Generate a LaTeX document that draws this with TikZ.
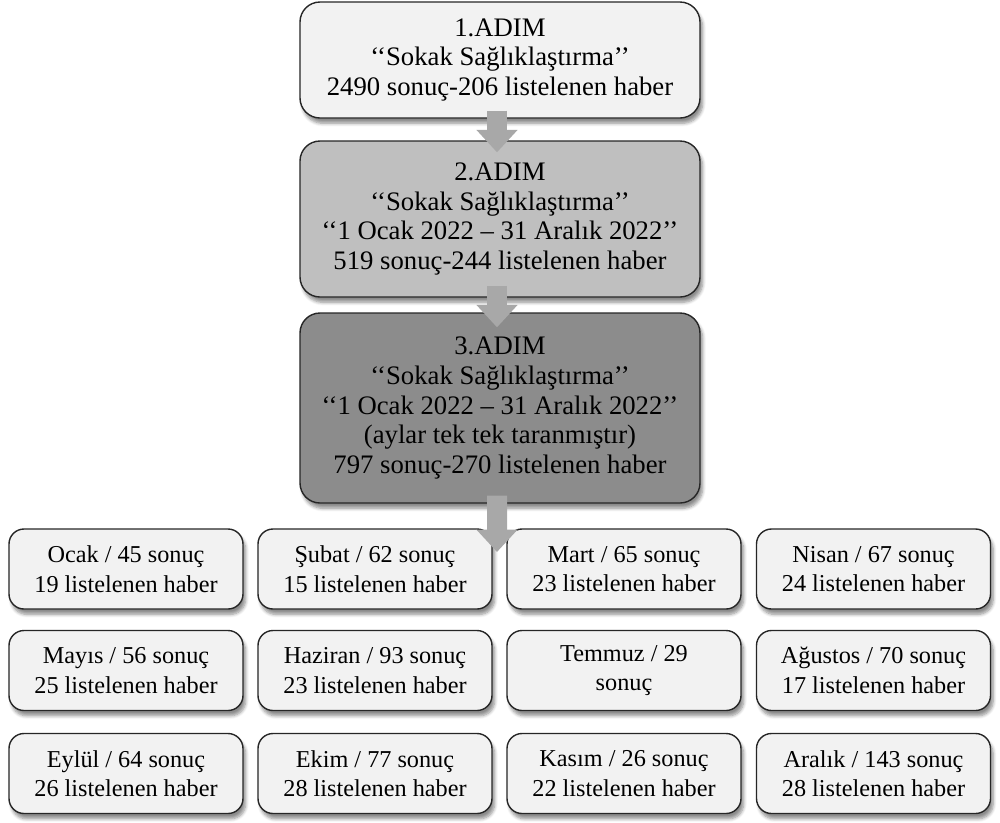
\documentclass[tikz,border=0pt]{standalone}
\usepackage{fontspec}
\setmainfont{Liberation Serif}
\usetikzlibrary{arrows.meta, shadows.blur}
\definecolor{adimA}{HTML}{F2F2F2}
\definecolor{adimB}{HTML}{BFBFBF}
\definecolor{adimC}{HTML}{8C8C8C}
\definecolor{okgri}{HTML}{A8A8A8}

\begin{document}
\begin{tikzpicture}[
    golge/.style={blur shadow={shadow xshift=1.5pt, shadow yshift=-3pt, shadow opacity=45, shadow blur steps=6}},
    adim/.style={draw=black!85, line width=0.8pt, rounded corners=0.4cm, golge,
      align=center, minimum width=8cm, font=\fontsize{15.2}{16.8}\selectfont},
    ay/.style={draw=black!85, line width=0.8pt, rounded corners=0.3cm, golge, fill=adimA,
      align=center, minimum width=4.68cm, minimum height=1.6cm, font=\fontsize{13.8}{16.8}\selectfont},
    akis/.style={draw=okgri, line width=0.4cm, -{Triangle[width=0.8cm, length=0.45cm]}}
  ]
    \useasboundingbox (0, 0) rectangle (20, -16.44);

    \node[adim, fill=adimA, minimum height=2.32cm] (adim1) at (10, -1.2)
      {1.ADIM\\‘‘Sokak Sağlıklaştırma’’\\2490 sonuç-206 listelenen haber};
    \node[adim, fill=adimB, minimum height=3.12cm] (adim2) at (10, -4.38)
      {2.ADIM\\‘‘Sokak Sağlıklaştırma’’\\‘‘1 Ocak 2022 – 31 Aralık 2022’’\\519 sonuç-244 listelenen haber};
    \node[adim, fill=adimC, minimum height=3.8cm] (adim3) at (10, -8.16)
      {3.ADIM\\‘‘Sokak Sağlıklaştırma’’\\‘‘1 Ocak 2022 – 31 Aralık 2022’’\\(aylar tek tek taranmıştır)\\797 sonuç-270 listelenen haber};

    \node[ay] (ocak) at (2.52, -11.38) {Ocak / 45 sonuç\\19 listelenen haber};
    \node[ay] (subat) at (7.5, -11.38) {Şubat / 62 sonuç\\15 listelenen haber};
    \node[ay] (mart) at (12.48, -11.38) {Mart / 65 sonuç\\23 listelenen haber};
    \node[ay] (nisan) at (17.47, -11.38) {Nisan / 67 sonuç\\24 listelenen haber};

    \node[ay] (mayis) at (2.52, -13.41) {Mayıs / 56 sonuç\\25 listelenen haber};
    \node[ay] (haziran) at (7.5, -13.41) {Haziran / 93 sonuç\\23 listelenen haber};
    \node[ay] (temmuz) at (12.48, -13.41) {Temmuz / 29\\sonuç};
    \node[ay] (agustos) at (17.47, -13.41) {Ağustos / 70 sonuç\\17 listelenen haber};

    \node[ay] (eylul) at (2.52, -15.47) {Eylül / 64 sonuç\\26 listelenen haber};
    \node[ay] (ekim) at (7.5, -15.47) {Ekim / 77 sonuç\\28 listelenen haber};
    \node[ay] (kasim) at (12.48, -15.47) {Kasım / 26 sonuç\\22 listelenen haber};
    \node[ay] (aralik) at (17.47, -15.47) {Aralık / 143 sonuç\\28 listelenen haber};

    \coordinate (aylar) at (9.94, -11.04);

    \draw[akis] ([xshift=-0.06cm, yshift=0.16cm]adim1.south) -- ([xshift=-0.06cm, yshift=-0.24cm]adim2.north);
    \draw[akis] ([xshift=-0.06cm, yshift=0.24cm]adim2.south) -- ([xshift=-0.06cm, yshift=-0.3cm]adim3.north);
    \draw[akis] ([xshift=-0.06cm, yshift=0.16cm]adim3.south) -- (aylar);
  \end{tikzpicture}
\end{document}
